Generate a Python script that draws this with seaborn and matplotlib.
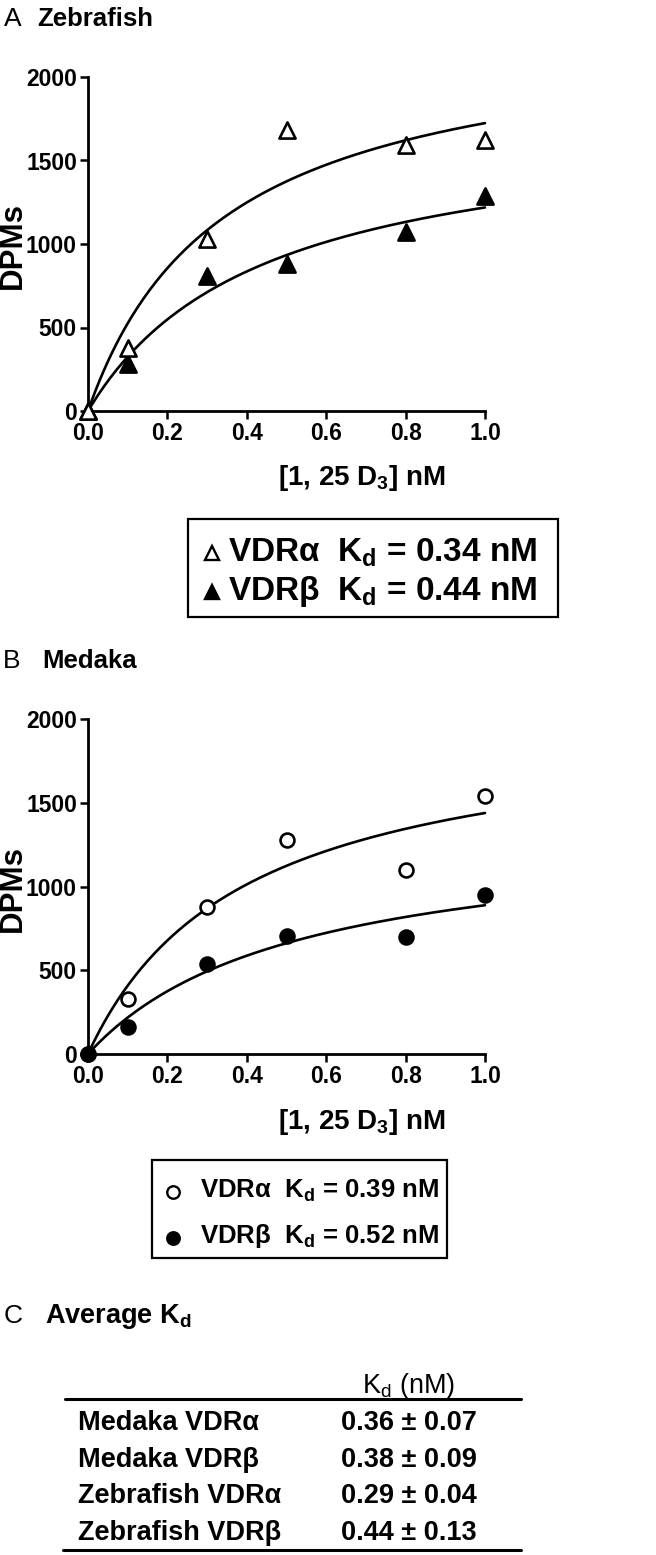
import numpy as np
import pandas as pd
import matplotlib
matplotlib.use("Agg")
import matplotlib.pyplot as plt
import seaborn as sns
from matplotlib.patches import Rectangle

# ---------------- data ----------------
conc = [0.0, 0.1, 0.3, 0.5, 0.8, 1.0]
zf_alpha = [0, 380, 1030, 1680, 1590, 1620]
zf_beta = [0, 280, 810, 880, 1070, 1290]
md_alpha = [0, 330, 880, 1280, 1100, 1540]
md_beta = [0, 160, 535, 705, 700, 950]

# one-site binding fits: (Bmax, Kd)
zf_alpha_fit = (2310, 0.34)
zf_beta_fit = (1755, 0.44)
md_alpha_fit = (2000, 0.39)
md_beta_fit = (1350, 0.52)

yticks = [0, 500, 1000, 1500, 2000]
ytick_labels = ["0", "500", "1000", "1500", "2000"]
xticks = [0.0, 0.2, 0.4, 0.6, 0.8, 1.0]
xtick_labels = ["0.0", "0.2", "0.4", "0.6", "0.8", "1.0"]

legend_A_kd = ["0.34", "0.44"]
legend_B_kd = ["0.39", "0.52"]
legend_names = ["VDRα", "VDRβ"]

table_rows = ["Medaka VDRα", "Medaka VDRβ", "Zebrafish VDRα", "Zebrafish VDRβ"]
table_kd = ["0.36 ± 0.07", "0.38 ± 0.09", "0.29 ± 0.04", "0.44 ± 0.13"]

# ---------------- style ----------------
sns.set_style("ticks")
plt.rcParams["font.family"] = ["Liberation Sans", "DejaVu Sans"]
plt.rcParams["mathtext.fontset"] = "custom"
plt.rcParams["mathtext.rm"] = "Liberation Sans"
plt.rcParams["mathtext.bf"] = "Liberation Sans:bold"
plt.rcParams["mathtext.it"] = "Liberation Sans:italic"
for k in ["text.color", "axes.labelcolor", "xtick.color", "ytick.color", "axes.edgecolor"]:
    plt.rcParams[k] = "black"

W, H = 656, 1555
fig = plt.figure(figsize=(W / 100, H / 100), dpi=100)


def px_axes(left, top, right, bottom):
    return fig.add_axes([left / W, 1 - bottom / H, (right - left) / W, (bottom - top) / H])


def hyperbola(fit):
    xs = np.linspace(0, 1, 200)
    b, k = fit
    return xs, b * xs / (k + xs)


def style_axes(ax):
    ax.set_xlim(0, 1)
    ax.set_ylim(0, 2000)
    sns.despine(ax=ax)
    for s in ["left", "bottom"]:
        ax.spines[s].set_linewidth(2.0)
        ax.spines[s].set_color("black")
    ax.set_xticks(xticks, labels=xtick_labels, fontsize=16.5, fontweight="bold")
    ax.set_yticks(yticks, labels=ytick_labels, fontsize=16.5, fontweight="bold")
    ax.tick_params(length=6, width=1.8, color="black", pad=2)
    ax.set_ylabel("DPMs", fontsize=22.5, fontweight="bold")
    ax.yaxis.set_label_coords(-0.152, 0.495)
    ax.set_xlabel(r"[1, 25 D$_{\mathbf{3}}$] nM", fontsize=20, fontweight="bold")
    ax.xaxis.set_label_coords(0.69, -0.157)


def draw_panel(ax, a_vals, b_vals, a_fit, b_fit, marker, ms, order_open_last):
    for fit in (a_fit, b_fit):
        xs, ys = hyperbola(fit)
        sns.lineplot(x=xs, y=ys, ax=ax, color="black", linewidth=1.9, clip_on=False)
    kw = dict(ax=ax, marker=marker, s=ms, linewidth=1.9, clip_on=False, zorder=5, legend=False)
    if order_open_last:
        sns.scatterplot(x=conc, y=b_vals, color="black", edgecolor="black", **kw)
        sns.scatterplot(x=conc, y=a_vals, color="white", edgecolor="black", **kw)
    else:
        sns.scatterplot(x=conc, y=a_vals, color="white", edgecolor="black", **kw)
        sns.scatterplot(x=conc, y=b_vals, color="black", edgecolor="black", **kw)
    style_axes(ax)


axA = px_axes(88, 77, 485, 411)
draw_panel(axA, zf_alpha, zf_beta, zf_alpha_fit, zf_beta_fit, "^", 135, True)

axB = px_axes(88, 719, 485, 1054)
draw_panel(axB, md_alpha, md_beta, md_alpha_fit, md_beta_fit, "o", 100, False)

# ---------------- overlay for titles, legends, table ----------------
ov = fig.add_axes([0, 0, 1, 1])
ov.set_xlim(0, W)
ov.set_ylim(H, 0)
ov.axis("off")

# panel titles
ov.text(4, 26, "A", fontsize=19, ha="left", va="baseline")
ov.text(37, 26, "Zebrafish", fontsize=18.5, fontweight="bold", ha="left", va="baseline")
ov.text(3, 668, "B", fontsize=19, ha="left", va="baseline")
ov.text(42, 668, "Medaka", fontsize=18.5, fontweight="bold", ha="left", va="baseline")
ov.text(4, 1323, "C", fontsize=19, ha="left", va="baseline")
ov.text(45, 1323, r"Average K$_{\mathbf{d}}$", fontsize=19.5, fontweight="bold", ha="left", va="baseline")


def legend_box(x0, y0, x1, y1, mx, tx, rows_c, rows_b, marker, ms, kds, fs):
    ov.add_patch(Rectangle((x0, y0), x1 - x0, y1 - y0, fill=False, edgecolor="black", linewidth=1.6))
    faces = ["white", "black"]
    for i in range(2):
        ov.plot([mx], [rows_c[i]], marker=marker, markersize=ms, markerfacecolor=faces[i],
                markeredgecolor="black", markeredgewidth=1.7, linestyle="none")
        ov.text(tx, rows_b[i], legend_names[i] + r"  K$_{\mathbf{d}}$ = " + kds[i] + " nM",
                fontsize=fs, fontweight="bold", ha="left", va="baseline")


legend_box(188, 519, 558, 617, 212, 228, [553, 592], [562, 600], "^", 10.5, legend_A_kd, 24)
legend_box(152, 1160, 447, 1258, 173, 200, [1192, 1238], [1198, 1243], "o", 9, legend_B_kd, 18.5)

# table
ov.text(409, 1393, r"K$_{\mathrm{d}}$ (nM)", fontsize=19.5, ha="center", va="baseline")
ov.plot([65, 521], [1399, 1399], color="black", linewidth=2.2)
ov.plot([63, 521], [1550, 1550], color="black", linewidth=2.2)
row_base = [1430, 1467, 1503, 1540]
for i in range(len(table_rows)):
    ov.text(78, row_base[i], table_rows[i], fontsize=19.5, fontweight="bold", ha="left",
            va="baseline")
    ov.text(409, row_base[i], table_kd[i], fontsize=19.5, fontweight="bold", ha="center",
            va="baseline")

fig.savefig("out.png", dpi=100)
